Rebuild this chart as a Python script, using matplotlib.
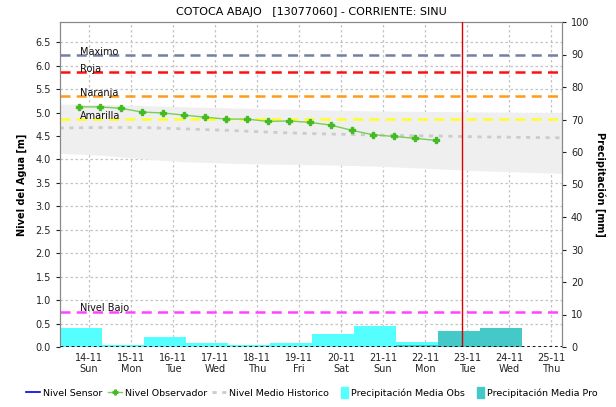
import matplotlib
matplotlib.use("Agg")
import matplotlib.pyplot as plt
from matplotlib.lines import Line2D
from matplotlib.patches import Patch, Rectangle
from matplotlib.legend_handler import HandlerPatch

plt.rcParams['font.family'] = ['DejaVu Sans']

title = "COTOCA ABAJO   [13077060] - CORRIENTE: SINU"

# x in days of November
day_ticks = [14, 15, 16, 17, 18, 19, 20, 21, 22, 23, 24, 25]
day_labels = ["14-11\nSun", "15-11\nMon", "16-11\nTue", "17-11\nWed", "18-11\nThu",
              "19-11\nFri", "20-11\nSat", "21-11\nSun", "22-11\nMon", "23-11\nTue",
              "24-11\nWed", "25-11\nThu"]

obs_x = [13.76, 14.26, 14.76, 15.26, 15.76, 16.26, 16.76, 17.26, 17.76, 18.26,
         18.76, 19.26, 19.76, 20.26, 20.76, 21.26, 21.76, 22.26]
obs_y = [5.12, 5.12, 5.09, 5.01, 4.99, 4.945, 4.90, 4.86, 4.86, 4.81,
         4.82, 4.79, 4.73, 4.62, 4.525, 4.49, 4.45, 4.405]

hist_x = [13.3, 14.3, 15.3, 16.3, 17.3, 18.3, 19.3, 20.3, 21.3, 22.3, 23.3, 24.3, 25.3]
hist_upper = [5.18, 5.17, 5.15, 5.12, 5.10, 5.08, 5.06, 5.04, 5.03, 5.02, 5.01, 5.00, 5.00]
hist_lower = [4.13, 4.09, 4.01, 3.95, 3.92, 3.90, 3.89, 3.87, 3.84, 3.80, 3.76, 3.73, 3.70]
hist_mean = [4.67, 4.68, 4.68, 4.65, 4.62, 4.58, 4.55, 4.53, 4.51, 4.50, 4.48, 4.47, 4.46]

level_names = ["Maximo", "Roja", "Naranja", "Amarilla", "Nivel Bajo"]
level_values = [6.22, 5.86, 5.35, 4.86, 0.75]
level_colors = ["#7380a3", "#ff1010", "#ff9a1a", "#ffff22", "#ff44ff"]

precip_obs_x = [13.3, 14.3, 15.3, 16.3, 17.3, 18.3, 19.3, 20.3, 21.3]
precip_obs = [5.75, 0.6, 3.2, 1.3, 0.6, 1.3, 4.1, 6.6, 1.4]
precip_pro_x = [21.3, 22.3, 23.3]
precip_pro = [0.6, 5.0, 5.9]

now_x = 22.87

fig = plt.figure(figsize=(6.16, 4.07), dpi=100)
ax = fig.add_axes([60/616, 1-347/407, (562-60)/616, (347-22)/407])
ax2 = ax.twinx()

ax.set_xlim(13.31, 25.26)
ax.set_ylim(0, 6.93)
ax2.set_ylim(0, 100)

ax.set_xticks(day_ticks)
ax.set_xticklabels(day_labels, fontsize=7)
ax.set_yticks([i * 0.5 for i in range(14)])
ax.set_yticklabels([f"{i*0.5:.1f}" for i in range(14)], fontsize=7)
ax.grid(True, color="#c4c4c4", linestyle=(0, (2, 2)), linewidth=0.9)
ax.set_axisbelow(True)

ax.fill_between(hist_x, hist_lower, hist_upper, color="#efefef", linewidth=0, zorder=1)
ax.plot(hist_x, hist_mean, color="#cccccc", linestyle=(0, (1.5, 2)), linewidth=2, zorder=2)

for name, val, col in zip(level_names, level_values, level_colors):
    ax.axhline(val, color=col, linestyle=(0, (4, 2.5)), linewidth=1.8, zorder=3)
    ax.text(13.78, val - 0.035, name, fontsize=7, va="bottom", ha="left", color="#111111", zorder=4)

ax.plot(obs_x, obs_y, color="#77d055", linewidth=1.0, marker="P", markersize=3.8,
        markerfacecolor="#44bb22", markeredgecolor="#44bb22", zorder=5)

ax2.bar(precip_obs_x, precip_obs, width=1.0, align="edge", color="#55ffff", linewidth=0, zorder=2)
ax2.bar(precip_pro_x, precip_pro, width=1.0, align="edge", color="#44c8c8", linewidth=0, zorder=3)
ax2.axvline(now_x, color="#dd0000", linewidth=1.0, zorder=4)
ax2.axhline(0, color="black", linestyle=(0, (1, 1)), linewidth=2, zorder=5)
ax2.set_yticks(range(0, 101, 10))
ax2.set_yticklabels([str(v) for v in range(0, 101, 10)], fontsize=7)

for a in (ax, ax2):
    for s in a.spines.values():
        s.set_color("#888888")
    a.tick_params(colors="#222222", length=3, width=0.8)
ax.spines['bottom'].set_visible(False)
ax2.spines['bottom'].set_visible(False)
ax.tick_params(axis='x', length=0, pad=4)

ax.set_ylabel("Nivel del Agua [m]", fontsize=7, fontweight="bold", labelpad=6)
ax2.set_ylabel("Precipitación [mm]", fontsize=7, fontweight="bold", rotation=270, labelpad=12)

fig.text(0.5 * (60 + 562) / 616, 1 - 12/407, title, ha="center", va="center", fontsize=8)


def narrow_patch(legend, orig_handle, xdescent, ydescent, width, height, fontsize):
    w = 5.0
    return Rectangle((-xdescent + width - w, -ydescent - 1.5), w, height + 3)


handles = [
    Line2D([], [], color="#0000dd", linewidth=1.2),
    Line2D([], [], color="#77d055", linewidth=1.0, marker="P", markersize=3.5,
           markerfacecolor="#44bb22", markeredgecolor="#44bb22"),
    Line2D([], [], color="#cccccc", linestyle=(0, (1.5, 2)), linewidth=2),
    Patch(color="#55ffff"),
    Patch(color="#44c8c8"),
]
labels = ["Nivel Sensor", "Nivel Observador", "Nivel Medio Historico",
          "Precipitación Media Obs", "Precipitación Media Pro"]
hp = HandlerPatch(patch_func=narrow_patch)
fig.legend(handles, labels, loc="center", bbox_to_anchor=(312/616, 1 - 393/407), ncol=5,
           fontsize=6.8, frameon=False, handlelength=1.5, handletextpad=0.3,
           columnspacing=0.55, handler_map={Patch: hp})

fig.savefig("out.png", dpi=100)
